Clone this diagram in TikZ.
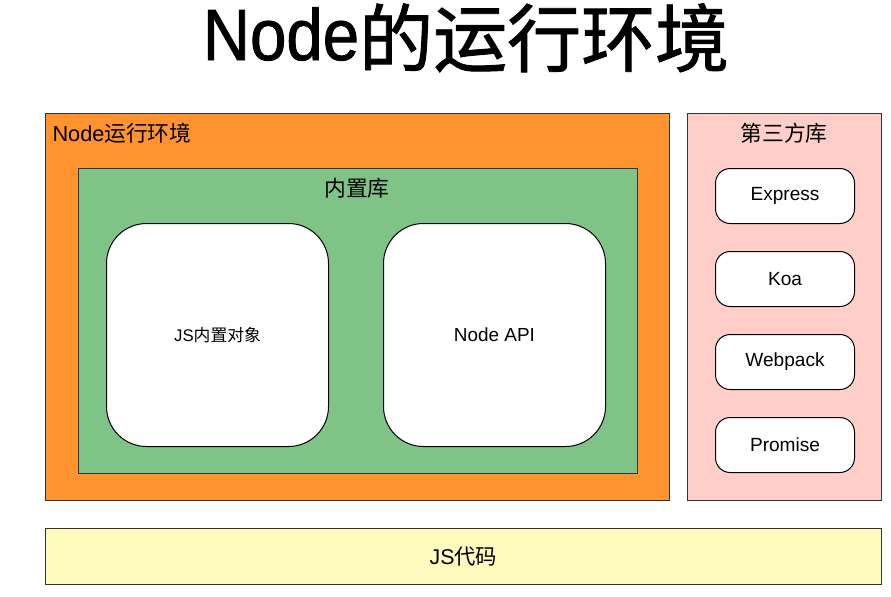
\documentclass[tikz,border=0pt]{standalone}
\usepackage{fontspec}
\setmainfont{Liberation Sans}
\newfontfamily\cjk{Noto Sans CJK SC}
\newfontfamily\titlefont{Liberation Sans}[FakeStretch=0.9,FakeBold=1.2]
\newfontfamily\titlecjk{Noto Sans CJK SC}[FakeBold=1.2]

\definecolor{envorange}{RGB}{255,147,48}
\definecolor{libgreen}{RGB}{127,195,135}
\definecolor{thirdpink}{RGB}{255,206,201}
\definecolor{codeyellow}{RGB}{255,250,189}

\tikzset{every picture/.style={line width=0.75pt}}
\tikzset{
  envbox/.style={draw=black!80, rectangle, anchor=north west, inner sep=0pt},
  bigbox/.style={draw=black, fill=white, rounded corners=30pt, anchor=north west, inner sep=0pt,
    minimum width=166.5pt, minimum height=167.25pt},
  pkgbox/.style={draw=black, fill=white, rounded corners=11pt, anchor=north west, inner sep=0pt,
    minimum width=104.25pt, minimum height=41.25pt, font=\fontsize{14.3}{17}\selectfont},
  boxlabel/.style={inner sep=0pt, font=\fontsize{16.3}{19}\selectfont}
}

\begin{document}
\begin{tikzpicture}[x=0.75pt,y=0.75pt,yscale=-1,xscale=1]
\useasboundingbox (0,0) rectangle (891,596);

% Title
\node[anchor=base, inner sep=0pt] (title) at (466,60)
  {{\titlefont\fontsize{54.5}{60}\selectfont Node}{\titlecjk\fontsize{55.5}{60}\selectfont\raisebox{-4.5pt}{的运行环境}}};

%Shape: Rectangle (node runtime)
\node[envbox, fill=envorange, minimum width=468pt, minimum height=290.25pt] (runtime) at (45,113) {};
\node[boxlabel, anchor=base west] (runtimelabel) at (52,141) {Node{\cjk 运行环境}};

%Shape: Rectangle (built-in libs)
\node[envbox, fill=libgreen, minimum width=419.25pt, minimum height=228.75pt] (builtin) at (78,168) {};
\node[boxlabel, anchor=base] (builtinlabel) at (357,196) {\cjk 内置库};

%Shape: Rounded Rect
\node[bigbox, font=\fontsize{12.6}{15}\selectfont] (jsobj) at (106,223) {JS{\cjk 内置对象}};
\node[bigbox, font=\fontsize{14.2}{17}\selectfont] (nodeapi) at (383,223) {Node API};

%Shape: Rectangle (third party)
\node[envbox, fill=thirdpink, minimum width=145.5pt, minimum height=290.25pt] (thirdparty) at (687,113) {};
\node[boxlabel, anchor=base] (thirdlabel) at (784,141) {\cjk 第三方库};

% packages
\foreach \name/\txt [count=\i from 0] in {express/Express, koa/Koa, webpack/Webpack, promise/Promise}
  \node[pkgbox] (\name) at (715,168+83*\i) {\txt};

%Shape: Rectangle (js code)
\node[envbox, fill=codeyellow, minimum width=627pt, minimum height=42pt,
  font=\fontsize{16}{19}\selectfont] (jscode) at (45,528) {JS{\cjk 代码}};

\end{tikzpicture}
\end{document}
